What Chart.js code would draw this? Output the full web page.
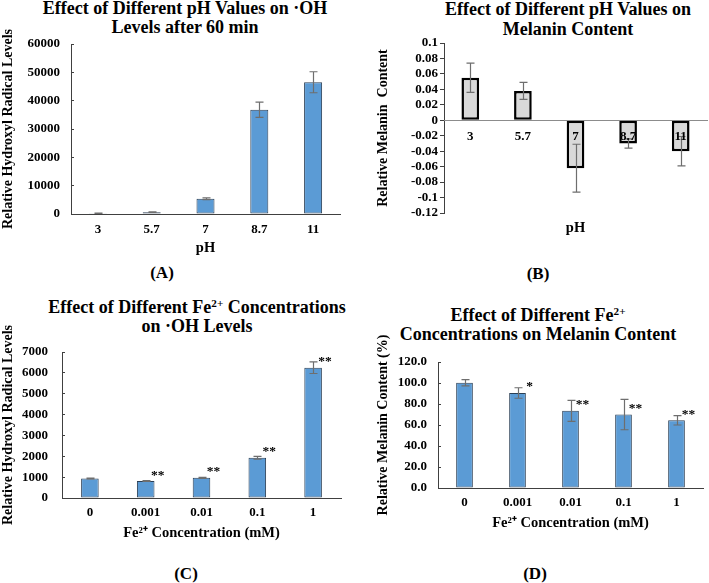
<!DOCTYPE html>
<html>
<head>
<meta charset="utf-8">
<script src="https://cdn.jsdelivr.net/npm/chart.js@4.4.1/dist/chart.umd.min.js"></script>
<style>
  body {
    margin: 0;
    width: 709px;
    height: 583px;
    position: relative;
    overflow: hidden;
    background: #fff;
    font-family: "Liberation Serif", "Times New Roman", serif;
    font-weight: bold;
    color: #000;
  }
  canvas { position: absolute; }
  .title {
    position: absolute;
    width: 360px;
    text-align: center;
    font-size: 18px;
    line-height: 19px;
    white-space: nowrap;
  }
  .title sup { font-size: 0.62em; line-height: 0; vertical-align: 0.5em; }
  .panel-label {
    position: absolute;
    width: 40px;
    text-align: center;
    font-size: 17px;
    line-height: 18px;
  }
</style>
</head>
<body>
  <div class="title" style="left:5px; top:-1.5px">Effect of Different pH Values on ·OH<br>Levels after 60 min</div>
  <div class="title" style="left:388px; top:-1px; line-height:20px">Effect of Different pH Values on<br>Melanin Content</div>
  <div class="title" style="left:17px; top:298px">Effect of Different Fe<sup>2+</sup> Concentrations<br>on ·OH Levels</div>
  <div class="title" style="left:358px; top:306px">Effect of Different Fe<sup>2+</sup><br>Concentrations on Melanin Content</div>

  <canvas id="chart-a" width="344" height="243" style="left:0; top:14px"></canvas>
  <canvas id="chart-b" width="354" height="224" style="left:355px; top:13px"></canvas>
  <canvas id="chart-c" width="345" height="230" style="left:0; top:312px"></canvas>
  <canvas id="chart-d" width="352" height="210" style="left:355px; top:322px"></canvas>

  <div class="panel-label" style="left:142px; top:264px">(A)</div>
  <div class="panel-label" style="left:518px; top:265px">(B)</div>
  <div class="panel-label" style="left:166px; top:565px">(C)</div>
  <div class="panel-label" style="left:515px; top:565px">(D)</div>

<script>
  const phLabels = ["3", "5.7", "7", "8.7", "11"];
  const phHydroxyl = [250, 650, 5400, 36800, 46500];
  const phHydroxylErr = [80, 100, 300, 2700, 3700];
  const phMelanin = [0.055, 0.038, -0.062, -0.030, -0.040];
  const phMelaninErr = [0.019, 0.011, 0.031, 0.006, 0.019];

  const feLabels = ["0", "0.001", "0.01", "0.1", "1"];
  const feHydroxyl = [930, 810, 970, 1930, 6250];
  const feHydroxylErr = [20, 20, 25, 70, 280];
  const feHydroxylSig = ["", "**", "**", "**", "**"];
  const feMelanin = [100.2, 90.5, 73.5, 70, 64.5];
  const feMelaninErr = [3, 5, 10, 14.5, 4.5];
  const feMelaninSig = ["", "*", "**", "**", "**"];

  const FONT = '"Liberation Serif", "Times New Roman", serif';
  Chart.defaults.font.family = FONT;
  Chart.defaults.font.weight = "bold";
  Chart.defaults.color = "#000";

  const blue = "#5b9bd5";
  const blueEdge = "#2b3f55";
  const axisColor = "#404040";

  // draws the error bars and the significance stars on top of the bars
  function errorBars(errors, marks) {
    return {
      id: "errorBars",
      afterDatasetsDraw(chart) {
        const { ctx } = chart;
        const yScale = chart.scales.y;
        const values = chart.data.datasets[0].data;
        const bars = chart.getDatasetMeta(0).data;
        ctx.save();
        ctx.strokeStyle = "#6e6e6e";
        ctx.lineWidth = 1.2;
        bars.forEach((bar, i) => {
          const top = yScale.getPixelForValue(values[i] + errors[i]);
          const bottom = yScale.getPixelForValue(values[i] - errors[i]);
          const x = Math.round(bar.x) + 0.5;
          ctx.beginPath();
          ctx.moveTo(x, top);
          ctx.lineTo(x, bottom);
          ctx.moveTo(x - 4, top);
          ctx.lineTo(x + 4, top);
          ctx.moveTo(x - 4, bottom);
          ctx.lineTo(x + 4, bottom);
          ctx.stroke();
        });
        if (marks) {
          ctx.fillStyle = "#000";
          ctx.font = "bold 13.5px " + FONT;
          ctx.textAlign = "center";
          ctx.textBaseline = "middle";
          bars.forEach((bar, i) => {
            if (marks[i]) ctx.fillText(marks[i], bar.x + 12, bar.y - 6);
          });
        }
        ctx.restore();
      },
    };
  }

  function yAxis(o) {
    return {
      min: o.min,
      max: o.max,
      border: { display: true, color: axisColor, width: 1 },
      grid: {
        display: true,
        drawOnChartArea: false,
        drawTicks: true,
        tickLength: o.tickLength,
        color: axisColor,
      },
      ticks: {
        stepSize: o.step,
        autoSkip: false,
        padding: o.tickPad,
        font: { size: 13 },
        callback: o.format,
      },
      title: {
        display: true,
        text: o.title,
        font: { size: 14 },
        padding: { top: o.titlePad, bottom: 0 },
      },
      afterFit: (scale) => {
        scale.width = o.width;
      },
    };
  }

  function bottomAxis(o) {
    return {
      grid: { display: false, drawTicks: false },
      border: { display: true, color: axisColor, width: 1 },
      ticks: { padding: o.tickPad, font: { size: 13 } },
      title: {
        display: true,
        text: o.title,
        font: { size: 14.5 },
        padding: { top: 0, bottom: o.titlePad },
      },
      afterFit: (scale) => {
        scale.height = o.height;
      },
    };
  }

  function baseOptions(padTop, padRight, scales) {
    return {
      responsive: false,
      animation: false,
      events: [],
      layout: { padding: { top: padTop, left: 0, right: padRight, bottom: 0 } },
      plugins: { legend: { display: false }, tooltip: { enabled: false } },
      scales,
    };
  }

  // (A) pH vs hydroxyl radical
  new Chart(document.getElementById("chart-a"), {
    type: "bar",
    data: {
      labels: phLabels,
      datasets: [{
        data: phHydroxyl,
        backgroundColor: blue,
        borderColor: blueEdge,
        borderWidth: 1,
        borderSkipped: false,
        categoryPercentage: 1,
        barPercentage: 0.335,
      }],
    },
    options: baseOptions(30, 4, {
      x: bottomAxis({ tickPad: 8, title: "pH", titlePad: 0, height: 43 }),
      y: yAxis({
        min: 0, max: 60000, step: 10000, tickLength: -3, tickPad: 14,
        format: (v) => String(v), title: "Relative Hydroxyl Radical Levels",
        titlePad: 0, width: 71,
      }),
    }),
    plugins: [errorBars(phHydroxylErr)],
  });

  // (B) pH vs melanin, axis crossing at zero
  new Chart(document.getElementById("chart-b"), {
    type: "bar",
    data: {
      labels: phLabels,
      datasets: [{
        data: phMelanin,
        backgroundColor: "#d9d9d9",
        borderColor: "#000",
        borderWidth: 2.5,
        borderSkipped: false,
        categoryPercentage: 1,
        barPercentage: 0.336,
      }],
    },
    options: baseOptions(30, 2, {
      x: {
        position: { y: 0 },
        grid: { display: false, drawTicks: false },
        border: { display: true, color: "#8c8c8c", width: 1, z: 1 },
        ticks: { padding: 8.2, font: { size: 13 }, z: 1 },
      },
      x2: {
        type: "category",
        position: "bottom",
        grid: { display: false, drawTicks: false },
        border: { display: false },
        ticks: { display: false },
        title: { display: true, text: "pH", font: { size: 14.5 }, padding: { top: 0, bottom: 0 } },
        afterFit: (scale) => {
          scale.height = 24;
        },
      },
      y: yAxis({
        min: -0.12, max: 0.1, step: 0.02, tickLength: 4, tickPad: 2,
        format: (v) => String(+v.toFixed(2)), title: "Relative Melanin  Content",
        titlePad: 19.6, width: 89,
      }),
    }),
    plugins: [errorBars(phMelaninErr)],
  });

  // (C) Fe2+ vs hydroxyl radical
  new Chart(document.getElementById("chart-c"), {
    type: "bar",
    data: {
      labels: feLabels,
      datasets: [{
        data: feHydroxyl,
        backgroundColor: blue,
        borderColor: blueEdge,
        borderWidth: 1,
        borderSkipped: false,
        categoryPercentage: 1,
        barPercentage: 0.315,
      }],
    },
    options: baseOptions(40, 4, {
      x: bottomAxis({ tickPad: 7.2, title: "Fe²⁺ Concentration (mM)", titlePad: 0.3, height: 44 }),
      y: yAxis({
        min: 0, max: 7000, step: 1000, tickLength: -3, tickPad: 17,
        format: (v) => String(v), title: "Relative Hydroxyl Radical Levels",
        titlePad: 0, width: 62,
      }),
    }),
    plugins: [errorBars(feHydroxylErr, feHydroxylSig)],
  });

  // (D) Fe2+ vs melanin
  new Chart(document.getElementById("chart-d"), {
    type: "bar",
    data: {
      labels: feLabels,
      datasets: [{
        data: feMelanin,
        backgroundColor: blue,
        borderColor: blueEdge,
        borderWidth: 1,
        borderSkipped: false,
        categoryPercentage: 1,
        barPercentage: 0.315,
      }],
    },
    options: baseOptions(40, 4, {
      x: bottomAxis({ tickPad: 7.2, title: "Fe²⁺ Concentration (mM)", titlePad: 0.3, height: 44 }),
      y: yAxis({
        min: 0, max: 120, step: 20, tickLength: -3, tickPad: 14,
        format: (v) => v.toFixed(1), title: "Relative Melanin Content (%)",
        titlePad: 19.6, width: 83,
      }),
    }),
    plugins: [errorBars(feMelaninErr, feMelaninSig)],
  });
</script>
</body>
</html>
